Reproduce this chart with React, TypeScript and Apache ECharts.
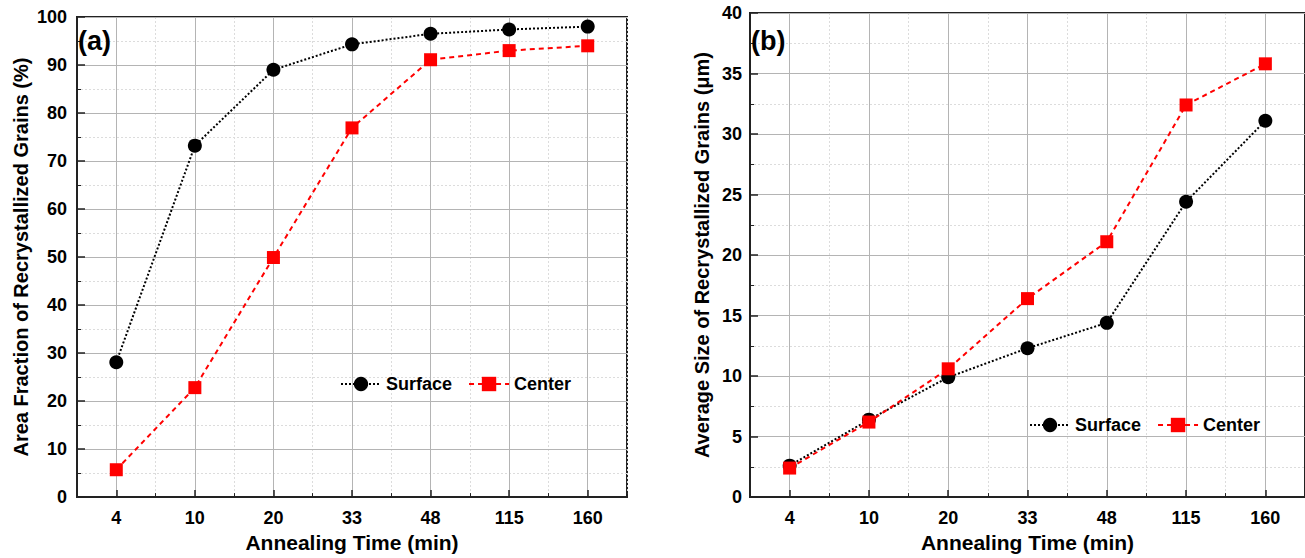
import React, { useEffect, useRef } from 'react';
import * as echarts from 'echarts';

const FONT = "'Liberation Sans', Arial, Helvetica, sans-serif";

const categories = ['4', '10', '20', '33', '48', '115', '160'];
const seriesNames = ['Surface', 'Center'];
const areaSurface = [28.1, 73.2, 89.0, 94.3, 96.5, 97.4, 98.0];
const areaCenter = [5.7, 22.8, 49.9, 76.9, 91.1, 93.0, 94.0];
const sizeSurface = [2.6, 6.4, 9.9, 12.3, 14.4, 24.4, 31.1];
const sizeCenter = [2.4, 6.2, 10.6, 16.4, 21.1, 32.4, 35.8];
const xTitle = 'Annealing Time (min)';
const yTitleA = 'Area Fraction of Recrystallized Grains (%)';
const yTitleB = 'Average Size of Recrystallized Grains (\u03bcm)';

const boldText = (size: number) => ({
  fontFamily: FONT,
  fontWeight: 'bold' as const,
  fontSize: size,
  color: '#000',
});

function xMain(gridIndex: number) {
  return {
    type: 'category',
    gridIndex,
    data: categories,
    boundaryGap: true,
    position: 'bottom',
    name: xTitle,
    nameLocation: 'middle',
    nameGap: 31,
    nameTextStyle: boldText(21),
    axisLine: { show: true, onZero: false, lineStyle: { color: '#222', width: 2 } },
    axisTick: { show: true, inside: true, alignWithLabel: true, interval: 0, length: 7, lineStyle: { color: '#222', width: 1.5 } },
    axisLabel: { ...boldText(18), margin: 12, interval: 0 },
    splitLine: { show: true, alignWithLabel: true, interval: 0, lineStyle: { color: '#b4b4b4', width: 1 } },
    z: 3,
  };
}

function xMinor(gridIndex: number) {
  return {
    type: 'category',
    gridIndex,
    data: categories,
    boundaryGap: true,
    position: 'bottom',
    axisLine: { show: false, onZero: false },
    axisLabel: { show: false },
    axisTick: { show: true, inside: true, interval: 0, length: 4, lineStyle: { color: '#222', width: 1 } },
    splitLine: { show: true, interval: 0, lineStyle: { color: '#dcdcdc', width: 1, type: [2, 2] } },
  };
}

function yAx(gridIndex: number, max: number, interval: number, name: string, nameGap: number, margin: number) {
  return {
    type: 'value',
    gridIndex,
    min: 0,
    max,
    interval,
    name,
    nameLocation: 'middle',
    nameGap,
    nameTextStyle: boldText(20),
    axisLine: { show: true, onZero: false, lineStyle: { color: '#222', width: 2 } },
    axisTick: { show: true, inside: true, length: 8, lineStyle: { color: '#222', width: 1.5 } },
    minorTick: { show: true, splitNumber: 2, length: 4, lineStyle: { color: '#222', width: 1 } },
    axisLabel: { ...boldText(18), margin },
    splitLine: { show: true, lineStyle: { color: '#b4b4b4', width: 1 } },
    minorSplitLine: { show: true, lineStyle: { color: '#dcdcdc', width: 1, type: [2, 2] } },
    z: 3,
  };
}

function lineSeries(name: string, xi: number, yi: number, data: number[], surface: boolean) {
  return surface
    ? {
        name, type: 'line', xAxisIndex: xi, yAxisIndex: yi, data,
        symbol: 'circle', symbolSize: 14,
        itemStyle: { color: '#000' },
        lineStyle: { color: '#000', width: 2, type: [2, 2] },
        z: 4,
      }
    : {
        name, type: 'line', xAxisIndex: xi, yAxisIndex: yi, data,
        symbol: 'rect', symbolSize: 13,
        itemStyle: { color: '#ff0000' },
        lineStyle: { color: '#ff0000', width: 2, type: [5, 4] },
        z: 5,
      };
}

function legend(left: number, top: number) {
  return {
    left, top, padding: 0, orient: 'horizontal',
    itemWidth: 40, itemHeight: 18, itemGap: 16,
    selectedMode: false,
    textStyle: boldText(18),
    data: seriesNames,
  };
}

export default function App() {
  const ref = useRef<HTMLDivElement>(null);
  useEffect(() => {
    if (!ref.current) return;
    const chart = echarts.init(ref.current, undefined, { renderer: 'svg' });
    chart.setOption({
      animation: false,
      backgroundColor: '#fff',
      grid: [
        { left: 77, top: 17, width: 550, height: 482, show: true, borderColor: '#222', borderWidth: 2, backgroundColor: 'transparent' },
        { left: 750, top: 13, width: 560, height: 490, show: true, borderColor: '#222', borderWidth: 2, backgroundColor: 'transparent' },
      ],
      xAxis: [xMain(0), xMinor(0), xMain(1), xMinor(1)],
      yAxis: [yAx(0, 100, 10, yTitleA, 46, 10), yAx(1, 40, 5, yTitleB, 38, 8)],
      legend: [legend(340, 375), legend(1029, 416)],
      graphic: [
        { type: 'text', x: 78, y: 41, style: { text: '(a)', font: `bold 27px ${FONT}`, fill: '#000', verticalAlign: 'middle' }, z: 10 },
        { type: 'text', x: 751, y: 41, style: { text: '(b)', font: `bold 27px ${FONT}`, fill: '#000', verticalAlign: 'middle' }, z: 10 },
      ],
      series: [
        lineSeries('Surface', 0, 0, areaSurface, true),
        lineSeries('Center', 0, 0, areaCenter, false),
        lineSeries('Surface', 2, 1, sizeSurface, true),
        lineSeries('Center', 2, 1, sizeCenter, false),
      ],
    });
    return () => chart.dispose();
  }, []);
  return <div ref={ref} style={{ position: 'fixed', left: 0, top: 0, width: 1305, height: 558 }} />;
}
